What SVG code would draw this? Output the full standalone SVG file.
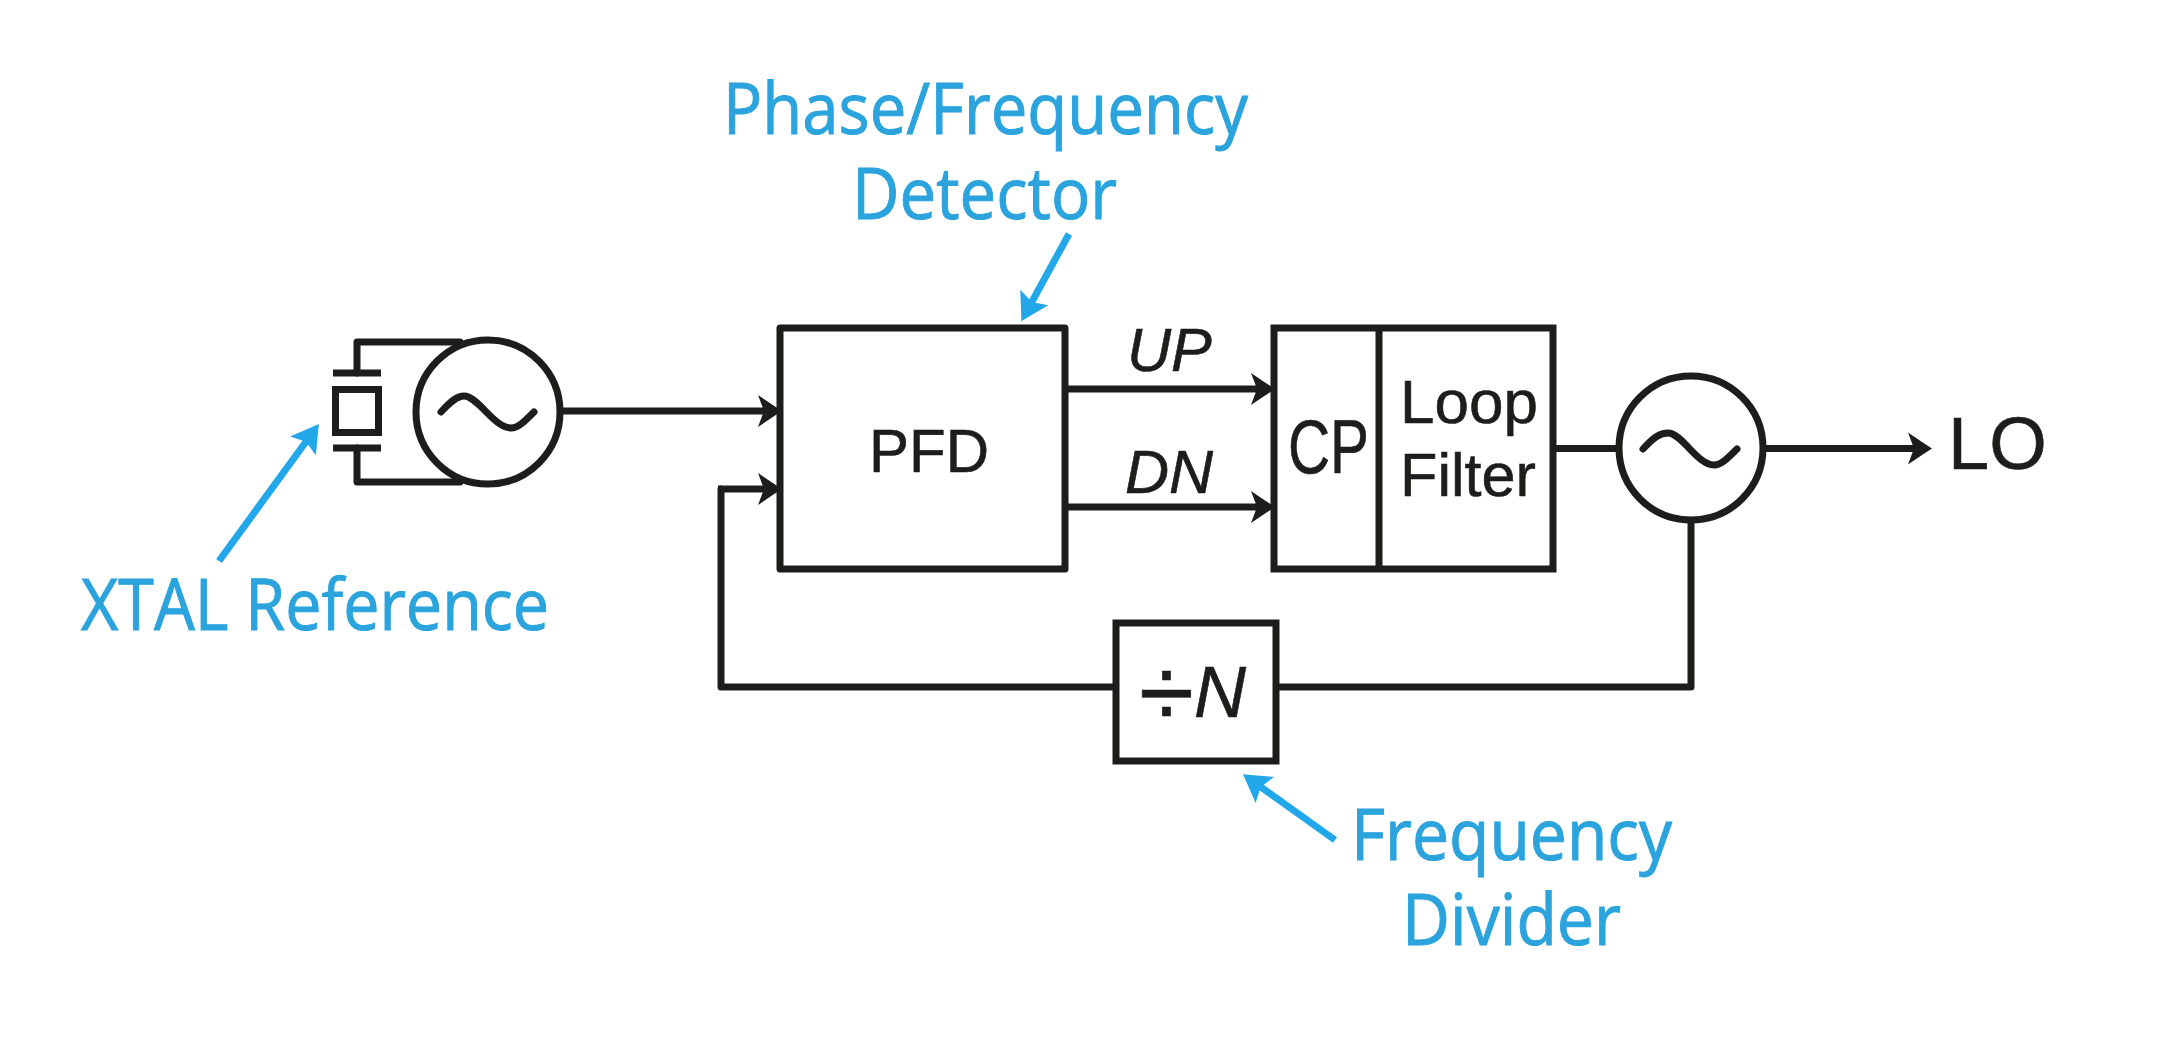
<svg xmlns="http://www.w3.org/2000/svg" width="2160" height="1038" viewBox="0 0 2160 1038">
<style>
.s{fill:none;stroke:#1d1d1b;stroke-width:7;stroke-linejoin:round;stroke-linecap:round}
.b{fill:#fff;stroke:#1d1d1b;stroke-width:7;stroke-linejoin:miter}
.w{fill:none;stroke:#1d1d1b;stroke-width:7;stroke-linecap:butt}
.a{marker-end:url(#ah)}
.l{fill:none;stroke:#22a7ea;stroke-width:7;marker-end:url(#bh)}
.t{fill:#1d1d1b;stroke:#1d1d1b;stroke-width:.6px;font-family:"Liberation Sans",Arial,sans-serif;font-size:62px}
.i{font-style:italic}
.c{fill:#2ba3dc;stroke:#2ba3dc;stroke-width:1px;font-family:"Open Sans","Noto Sans",sans-serif;font-size:72px}
</style>
<defs>
<marker id="ah" markerUnits="userSpaceOnUse" markerWidth="40" markerHeight="40" refX="0" refY="0" orient="auto" overflow="visible"><path d="M17,0Q6,-7 -7,-16L-1,0L-7,16Q6,7 17,0Z" fill="#1d1d1b"/></marker>
<marker id="bh" markerUnits="userSpaceOnUse" markerWidth="40" markerHeight="40" refX="0" refY="0" orient="auto" overflow="visible"><path d="M21,0Q8,-7.500 -6,-16L-1,0L-6,16Q8,7.500 21,0Z" fill="#22a7ea"/></marker>
</defs>
<rect width="2160" height="1038" fill="#fff"/>
<g id="connectors">
<path class="w a" d="M563,411H765"/>
<path class="w a" d="M1065,389H1258"/>
<path class="w a" d="M1065,507H1258"/>
<path class="s" d="M1116,687H721V489"/>
<path class="w a" d="M718,489H765"/>
<path class="w" d="M1553,448.500H1616"/>
<path class="w a" d="M1766,448.500H1915"/>
<path class="s" d="M1277,687H1691V523"/>
<path class="l" d="M219,561L306.500,441"/>
<path class="l" d="M1069,234L1031.400,302.800"/>
<path class="l" d="M1335,840L1260,786.400"/>
</g>
<g id="xtal">
<path class="s" d="M460,342H357V373"/>
<path class="s" d="M460,482H357V448"/>
<path class="w" d="M333,373H381M333,448H381"/>
<rect class="w" x="335.500" y="389.500" width="43" height="43"/>
</g>
<g id="ref-osc">
<circle cx="488" cy="412" r="72" fill="#fff" stroke="#1d1d1b" stroke-width="7"/>
<path class="s" d="M441,412C452,400 458,396 464,396C478,396 494,428 511,428C518,428 524,422 534,412"/>
</g>
<g id="pfd">
<rect class="s" x="780" y="328" width="285" height="241"/>
<text class="t" x="869" y="472" textLength="120" lengthAdjust="spacingAndGlyphs">PFD</text>
</g>
<g id="cp-filter">
<rect class="b" x="1274" y="328" width="279" height="241"/>
<path class="w" d="M1379,328V569"/>
<text class="t" x="1288" y="473" style="font-size:76px" textLength="81" lengthAdjust="spacingAndGlyphs">CP</text>
<text class="t" x="1400" y="423">Loop</text>
<text class="t" x="1400" y="496" textLength="136" lengthAdjust="spacingAndGlyphs">Filter</text>
</g>
<g id="vco">
<circle cx="1691" cy="448" r="72" fill="#fff" stroke="#1d1d1b" stroke-width="7"/>
<path class="s" d="M1643,449C1654,437 1660,433 1668,433C1682,433 1697,465 1714,465C1721,465 1727,459 1737,449"/>
</g>
<g id="divider">
<rect class="b" x="1116" y="623" width="160" height="138"/>
<text class="t" style="font-size:72px"><tspan x="1139" y="727" style="font-size:100px">÷</tspan><tspan class="i" x="1194" y="717">N</tspan></text>
</g>
<g id="labels">
<text class="t i" x="1127" y="371" style="font-size:61px">UP</text>
<text class="t i" x="1125" y="493" style="font-size:61px">DN</text>
<text class="t" x="1948" y="469" style="font-size:74px">LO</text>
<text class="c" x="723" y="134" textLength="525" lengthAdjust="spacingAndGlyphs">Phase/Frequency</text>
<text class="c" x="852" y="219" textLength="265" lengthAdjust="spacingAndGlyphs">Detector</text>
<text class="c" x="81" y="630" textLength="468" lengthAdjust="spacingAndGlyphs">XTAL Reference</text>
<text class="c" x="1351" y="860" textLength="321" lengthAdjust="spacingAndGlyphs">Frequency</text>
<text class="c" x="1402" y="945" textLength="219" lengthAdjust="spacingAndGlyphs">Divider</text>
</g>
</svg>
